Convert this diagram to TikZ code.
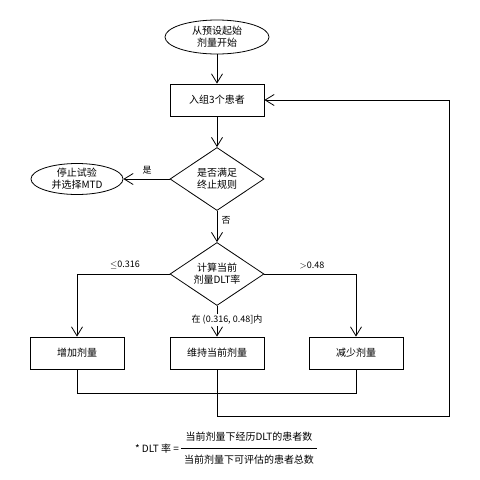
\documentclass[tikz,border=0pt]{standalone}
\usepackage{fontspec}
\setmainfont{Noto Sans CJK SC}
\usetikzlibrary{arrows.meta,shapes.geometric}

\tikzset{
  flowbox/.style={draw,line width=0.8pt,minimum width=94pt,minimum height=32pt,inner sep=0pt,align=center,font=\fontsize{10}{12}\selectfont},
  decide/.style={diamond,draw,line width=0.8pt,minimum width=94pt,minimum height=63pt,inner sep=0pt,aspect=1.5,align=center,font=\fontsize{10}{12}\selectfont},
  term/.style={ellipse,draw,line width=0.8pt,minimum width=104pt,minimum height=34pt,inner sep=0pt,align=center,font=\fontsize{10}{12}\selectfont},
  conn/.style={-{Straight Barb[length=9pt,width=11pt]},line width=0.8pt},
  plain/.style={line width=0.8pt},
  lbl/.style={inner sep=1pt,font=\fontsize{9}{11}\selectfont},
  formtxt/.style={inner sep=1pt,font=\fontsize{10}{12}\selectfont}
}

\begin{document}
\begin{tikzpicture}[x=1pt,y=-1pt]
\useasboundingbox (0,0) rectangle (480,480);

%---------------------------------------------------
%main column
\node[term] (start) at (217,37) {从预设起始\\剂量开始};
\node[flowbox] (enrol) at (217,100) {入组3个患者};
\node[decide] (stoprule) at (217,179) {是否满足\\终止规则};
\node[term,minimum width=92pt,minimum height=31pt] (stop) at (77,179) {停止试验\\并选择MTD};
\node[decide] (rate) at (217,274) {计算当前\\剂量DLT率};

%dose boxes
\node[flowbox] (up) at (77,353) {增加剂量};
\node[flowbox] (stay) at (217,353) {维持当前剂量};
\node[flowbox] (down) at (356,353) {减少剂量};

\coordinate (loop) at (449,416);

%---------------------------------------------------
\draw[conn] (start) -- (enrol);
\draw[conn] (enrol) -- (stoprule);
\draw[conn] (stoprule) -- (stop);
\draw[conn] (stoprule) -- (rate);
\draw[conn] (rate.west) -| (up);
\draw[conn] (rate.east) -| (down);
\draw[conn] (rate) -- (stay);
\draw[plain] (up.south) -- ++(0,24) -| (down.south);
\draw[conn] (stay.south) |- (loop) |- (enrol.east);

%---------------------------------------------------
\node[lbl] (yes) at (147,170) {是};
\node[lbl] (no) at (226,220) {否};
\node[lbl] (low) at (125,265) {$\leq$0.316};
\node[lbl] (high) at (312,265) {$>$0.48};
\node[lbl,fill=white] (mid) at (227,320) {在 (0.316, 0.48]内};

%--------------------------------------------------
%DLT rate definition
\node[formtxt] (lhs) at (157,449) {* DLT 率 =};
\node[formtxt] (num) at (249,437) {当前剂量下经历DLT的患者数};
\node[formtxt] (den) at (249,460) {当前剂量下可评估的患者总数};
\draw[line width=0.6pt] ([xshift=-2pt]den.west |- 0,448) -- ([xshift=2pt]den.east |- 0,448);

\end{tikzpicture}
\end{document}
